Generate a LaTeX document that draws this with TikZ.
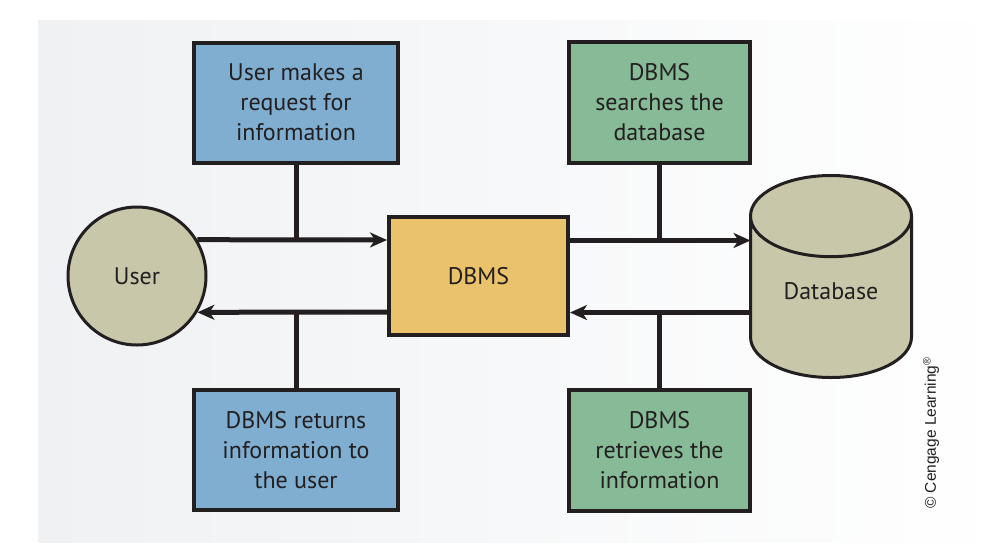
\documentclass[tikz,border=0pt]{standalone}
\usepackage{fontspec}
\setmainfont{PT Sans}
\newfontfamily\credfont{Liberation Sans}
\usetikzlibrary{positioning,calc,arrows.meta,shapes.geometric}
\definecolor{ink}{HTML}{231F20}
\definecolor{userblue}{HTML}{7FAED0}
\definecolor{dbgreen}{HTML}{87BA97}
\definecolor{dbmsgold}{HTML}{EBC26C}
\definecolor{khaki}{HTML}{C9C7AA}
\definecolor{bggray}{HTML}{EFF1F3}
\tikzset{
    stepbox/.style={draw=ink, line width=4pt, fill=#1, align=center, text=ink,
        font=\fontsize{24}{30}\selectfont, inner sep=0pt},
    store/.style={draw=ink, line width=3pt, fill=khaki, text=ink,
        font=\fontsize{24}{30}\selectfont},
    flow/.style={draw=ink, line width=5pt},
    tip/.style={-{Stealth[length=17pt,width=15pt,inset=5pt]}}
}

\begin{document}
\begin{tikzpicture}[x=1pt,y=-1pt]
    \useasboundingbox (0,0) rectangle (1008,555);
    \shade[left color=bggray, middle color=white, right color=white]
        (38,20) rectangle (1008,542);
    % middle row
    \node (dbms) [stepbox=dbmsgold, minimum width=179pt, minimum height=118pt] at (478.5,276) {DBMS};
    \node (user) [store, circle, minimum size=138pt, inner sep=0pt] at (137,276) {User};
    \node (db) [store, cylinder, shape border rotate=90, aspect=0.8, anchor=shape center,
        text depth=24pt, minimum width=161pt, minimum height=202pt] at (831,276.5) {Database};
    % the four steps
    \node (req) [stepbox=userblue, minimum width=204pt, minimum height=120pt] at (296,102.5)
        {User makes a\\request for\\information};
    \node (ret) [stepbox=userblue, minimum width=204pt, minimum height=120pt] at (296,450)
        {DBMS returns\\information to\\the user};
    \node (search) [stepbox=dbgreen, minimum width=181pt, minimum height=121pt] at (659.5,102.5)
        {DBMS\\searches the\\database};
    \node (fetch) [stepbox=dbgreen, minimum width=181pt, minimum height=121pt] at (659.5,450.5)
        {DBMS\\retrieves the\\information};
    \node (credit) [rotate=90, text=ink, font=\credfont\fontsize{15.5}{18}\selectfont] at (931,433)
        {© Cengage Learning\textsuperscript{®}};
    \coordinate (dbmsin) at ($(dbms.west)+(0,-36)$);
    \coordinate (dbmsout) at ($(dbms.west)+(0,36)$);
    \coordinate (dbin) at ($(db.shape center)+(-80.5,-36)$);
    \coordinate (dbout) at ($(db.shape center)+(-80.5,36)$);
    \draw[flow, tip] (user.31) -- (dbmsin);
    \draw[flow, tip] (dbmsout) -- (user.-31);
    \draw[flow, tip] (dbms.east |- dbin) -- (dbin);
    \draw[flow, tip] (dbout) -- (dbms.east |- dbout);
    \draw[flow]
        (req) -- (req |- dbmsin)
        (ret) -- (ret |- dbmsout)
        (search) -- (search |- dbin)
        (fetch) -- (fetch |- dbout);
\end{tikzpicture}
\end{document}
